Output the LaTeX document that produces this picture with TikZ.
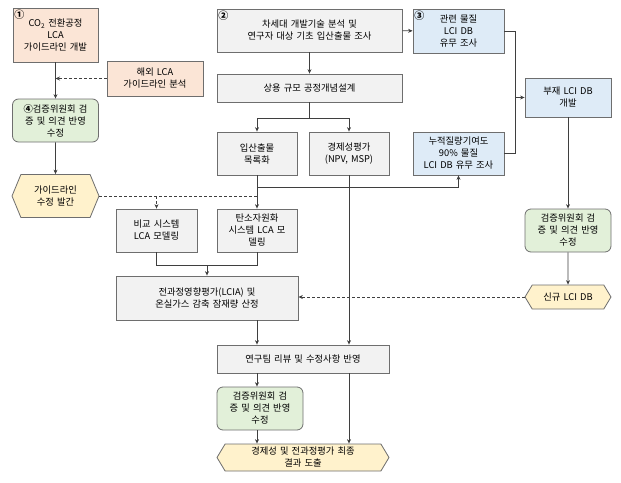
\documentclass[tikz,border=0pt]{standalone}
\usepackage{fontspec}
\setmainfont[WordSpace=1.5]{Noto Sans CJK KR}
\usetikzlibrary{arrows.meta,shapes.symbols}

\definecolor{boxline}{HTML}{6E6E6E}
\definecolor{wire}{HTML}{3F3F3F}
\definecolor{orangefill}{HTML}{FBE5D6}
\definecolor{grayfill}{HTML}{F2F2F2}
\definecolor{bluefill}{HTML}{DEEBF7}
\definecolor{greenfill}{HTML}{E2F0D9}
\definecolor{yellowfill}{HTML}{FFF2CC}

\begin{document}
\begin{tikzpicture}[x=1pt,y=-1pt,
  font=\fontsize{9.3}{12}\selectfont,
  >={Stealth[length=4.5pt,width=4pt]},
  color=wire, line width=0.7pt,
  box/.style={draw=boxline, line width=0.8pt, align=center, inner sep=1pt, text=black},
  orangebox/.style={box, fill=orangefill},
  graybox/.style={box, fill=grayfill},
  bluebox/.style={box, fill=bluefill},
  greenbox/.style={box, fill=greenfill, rounded corners=6pt},
  hexbox/.style={box, fill=yellowfill, shape=signal, signal to=west and east,
    signal pointer angle=#1},
  hexbox/.default=120,
  numtag/.style={anchor=north west, inner sep=1.5pt, text=black, font=\fontsize{10}{10}\selectfont\bfseries},
  dashline/.style={dash pattern=on 3pt off 2pt}]
\useasboundingbox (0,0) rectangle (621,482);

%left column
\path (55.5,35) node (co2) [orangebox, minimum width=85, minimum height=54,
  label={[numtag]north west:①}] {CO\textsubscript{2} 전환공정\\LCA\\가이드라인 개발};
\path (155,78.5) node (abroad) [orangebox, minimum width=96, minimum height=35] {해외 LCA\\가이드라인 분석};
\path (55.5,120.5) node (verifyA) [greenbox, minimum width=86, minimum height=43] {{\bfseries ④}검증위원회 검\\증 및 의견 반영\\수정};
\path (55.5,196) node (guide) [hexbox=135, minimum width=87, minimum height=43] {가이드라인\\수정 발간};

%middle column
\path (309.5,30.5) node (survey) [graybox, minimum width=185, minimum height=43,
  label={[numtag]north west:②}] {차세대 개발기술 분석 및\\연구자 대상 기초 입산출물 조사};
\path (309.5,88) node (concept) [graybox, minimum width=185, minimum height=28] {상용 규모 공정개념설계};
\path (257,153.5) node (inventory) [graybox, minimum width=80, minimum height=43] {입산출물\\목록화};
\path (349,153.5) node (econ) [graybox, minimum width=80, minimum height=43] {경제성평가\\(NPV, MSP)};
\path (156.5,230.5) node (compare) [graybox, minimum width=81, minimum height=43] {비교 시스템\\LCA 모델링};
\path (257,230.5) node (carbon) [graybox, minimum width=80, minimum height=43] {탄소자원화\\시스템 LCA 모\\델링};
\path (207,298) node (impact) [graybox, minimum width=182, minimum height=44] {전과정영향평가(LCIA) 및\\온실가스 감축 잠재량 산정};
\path (303,359) node (review) [graybox, minimum width=172, minimum height=28] {연구팀 리뷰 및 수정사항 반영};
\path (260,408.5) node (verifyC) [greenbox, minimum width=86, minimum height=43] {검증위원회 검\\증 및 의견 반영\\수정};
\path (303,457.5) node (final) [hexbox=118, minimum width=172, minimum height=27] {경제성 및 전과정평가 최종\\결과 도출};

%right column
\path (458.5,31) node (related) [bluebox, minimum width=91, minimum height=44,
  label={[numtag]north west:③}] {관련 물질\\LCI DB\\유무 조사};
\path (458.5,153.5) node (cumul) [bluebox, minimum width=91, minimum height=43] {누적질량기여도\\90\% 물질\\LCI DB 유무 조사};
\path (568,97.5) node (absent) [bluebox, minimum width=86, minimum height=39] {부재 LCI DB\\개발};
\path (568,230.5) node (verifyB) [greenbox, minimum width=86, minimum height=43] {검증위원회 검\\증 및 의견 반영\\수정};
\path (568,297) node (newdb) [hexbox=118, minimum width=86, minimum height=24] {신규 LCI DB};

%junctions
\path (concept.south) ++(0,16) coordinate (split);
\path (inventory.south) ++(0,12) coordinate (branch);
\path (515,97.5) coordinate (merge);
\path (207,265) coordinate (join);

%left flow
\draw [->] (co2) to (verifyA);
\draw [->, dashline] (abroad.west) to (abroad.west -| co2.south);
\draw [->] (verifyA) to (guide);
\draw [dashline] (guide.east) to (guide.east -| inventory.south);
\draw [->, dashline] (guide.east -| compare.north) to (compare.north);

%middle flow
\draw [->] (survey) to (related);
\draw [->] (survey) to (concept);
\draw (concept.south) to (split);
\draw [->] (split) -| (inventory);
\draw [->] (split) -| (econ);
\draw [->] (inventory) to (carbon);
\draw [->] (branch) -| (cumul);
\draw (compare.south) |- (join);
\draw (carbon.south) |- (join);
\draw [->] (join) to (impact);
\draw [->] (inventory |- impact.south) to (inventory |- review.north);
\draw [->] (econ) to (econ |- review.north);
\draw [->] (inventory |- review.south) to (inventory |- verifyC.north);
\draw [->] (inventory |- verifyC.south) to (inventory |- final.north);
\draw [->] (econ |- review.south) to (econ |- final.north);

%right flow
\draw (related.east) -| (merge);
\draw (cumul.east) -| (merge);
\draw [->] (merge) to (absent);
\draw [->] (absent) to (verifyB);
\draw [->] (verifyB) to (newdb);
\draw [->, dashline] (newdb.west) to (newdb.west -| impact.east);

\end{tikzpicture}
\end{document}
